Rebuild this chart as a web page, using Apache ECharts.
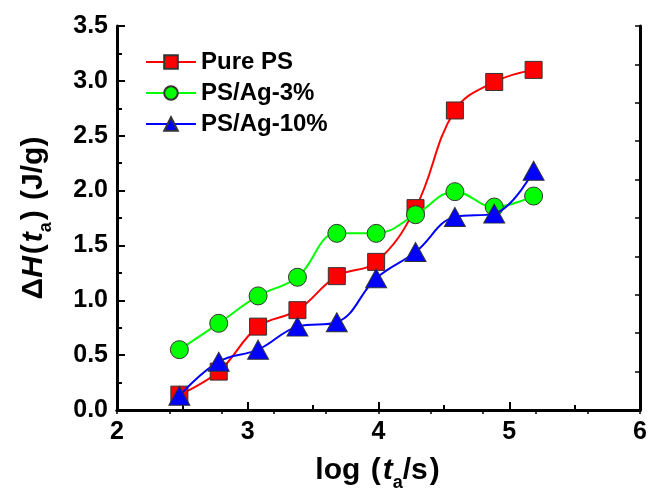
<!DOCTYPE html>
<html>
<head>
<meta charset="utf-8">
<script src="https://cdn.jsdelivr.net/npm/echarts@6/dist/echarts.min.js"></script>
<style>
  html, body { margin: 0; padding: 0; background: #fff; }
  #main { width: 650px; height: 497px; }
</style>
</head>
<body>
<div id="main"></div>
<script>
var chartDom = document.getElementById('main');
var myChart = echarts.init(chartDom);
var option;

// log(t_a/s), anneal times 300 s doubling
var logTime = [2.477, 2.778, 3.079, 3.380, 3.681, 3.982, 4.283, 4.584, 4.885, 5.186];
var purePS = [0.14, 0.35, 0.76, 0.91, 1.22, 1.35, 1.84, 2.73, 2.99, 3.10];
var psAg3 = [0.55, 0.79, 1.04, 1.21, 1.61, 1.61, 1.78, 1.99, 1.85, 1.95];
var psAg10 = [0.13, 0.44, 0.55, 0.76, 0.80, 1.20, 1.44, 1.76, 1.79, 2.18];
var seriesNames = ['Pure PS', 'PS/Ag-3%', 'PS/Ag-10%'];

var font = 'Arial, "Liberation Sans", sans-serif';

function pairs(ys) {
  return logTime.map((x, i) => [x, ys[i]]);
}

var nameRich = {
  n: { fontSize: 30, fontWeight: 'bold', fontFamily: font, color: '#000' },
  p: { fontSize: 30, fontWeight: 'bold', fontFamily: font, color: '#000', padding: [0, 2, 0, 2] },
  i: { fontSize: 30, fontWeight: 'bold', fontStyle: 'italic', fontFamily: font, color: '#000' },
  sub: { fontSize: 18, fontWeight: 'bold', fontFamily: font, color: '#000', padding: [24, 0, 0, 0] },
};

var lineAxis = { show: true, lineStyle: { color: '#000', width: 3 } };

option = {
  animation: false,
  textStyle: { fontFamily: font },
  grid: { left: 117, right: 7, top: 26, bottom: 85 },
  legend: {
    orient: 'vertical',
    left: 140,
    top: 45,
    itemWidth: 50,
    itemHeight: 17,
    itemGap: 7,
    textStyle: { fontSize: 24, fontWeight: 'bold', color: '#000', fontFamily: font },
    data: seriesNames,
  },
  xAxis: [
    {
      type: 'value',
      min: 2,
      max: 6,
      interval: 1,
      name: '{n|log }{p|(}{i|t}{sub|a}{n|/s}{p|)}',
      nameLocation: 'middle',
      nameGap: 40,
      nameTextStyle: { rich: nameRich },
      axisLine: lineAxis,
      axisTick: { inside: true, length: 8, lineStyle: { width: 2, color: '#000' } },
      minorTick: { show: true, splitNumber: 2, length: 5, lineStyle: { width: 2, color: '#000' } },
      splitLine: { show: false },
      axisLabel: { fontSize: 25, fontWeight: 'bold', color: '#000', margin: 10 },
    },
    {
      type: 'value',
      position: 'top',
      min: 2,
      max: 6,
      interval: 0.4,
      axisLine: lineAxis,
      axisTick: { inside: true, length: 4, lineStyle: { width: 1.5, color: '#000' } },
      axisLabel: { show: false },
      splitLine: { show: false },
    },
  ],
  yAxis: [
    {
      type: 'value',
      min: 0,
      max: 3.5,
      interval: 0.5,
      name: '{n|Δ}{i|H}{p|(}{i|t}{sub|a}{p|)}{n| (J/g)}',
      nameLocation: 'middle',
      nameGap: 62,
      nameTextStyle: { rich: nameRich },
      axisLine: lineAxis,
      axisTick: { inside: true, length: 8, lineStyle: { width: 2, color: '#000' } },
      minorTick: { show: true, splitNumber: 2, length: 5, lineStyle: { width: 2, color: '#000' } },
      splitLine: { show: false },
      axisLabel: {
        fontSize: 25,
        fontWeight: 'bold',
        color: '#000',
        margin: 9,
        formatter: (v) => v.toFixed(1),
      },
    },
    {
      type: 'value',
      position: 'right',
      min: 0,
      max: 3.5,
      interval: 0.35,
      axisLine: lineAxis,
      axisTick: { inside: true, length: 5, lineStyle: { width: 1.5, color: '#000' } },
      axisLabel: { show: false },
      splitLine: { show: false },
    },
  ],
  series: [
    {
      name: seriesNames[0],
      type: 'line',
      data: pairs(purePS),
      smooth: 0.4,
      symbol: 'rect',
      symbolSize: 17,
      lineStyle: { color: '#ff0000', width: 2 },
      itemStyle: { color: '#ff0000', borderColor: '#333', borderWidth: 1 },
      z: 3,
    },
    {
      name: seriesNames[1],
      type: 'line',
      data: pairs(psAg3),
      smooth: 0.4,
      symbol: 'circle',
      symbolSize: 18,
      lineStyle: { color: '#00ff00', width: 2 },
      itemStyle: { color: '#00ff00', borderColor: '#333', borderWidth: 1 },
      z: 4,
    },
    {
      name: seriesNames[2],
      type: 'line',
      data: pairs(psAg10),
      smooth: 0.4,
      symbol: 'triangle',
      symbolSize: [21, 19],
      lineStyle: { color: '#0000ff', width: 2 },
      itemStyle: { color: '#0000ff', borderColor: '#333', borderWidth: 1 },
      z: 5,
    },
  ],
};

option && myChart.setOption(option);

window.onresize = function () {
  myChart.resize();
};
</script>
</body>
</html>
